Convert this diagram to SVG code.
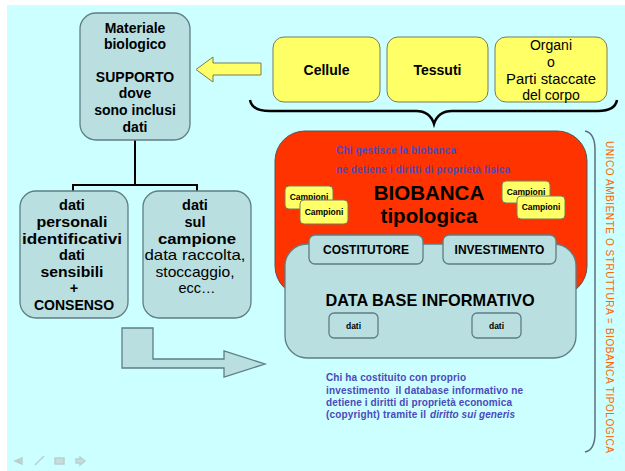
<svg xmlns="http://www.w3.org/2000/svg" width="625" height="471" viewBox="0 0 625 471">
<defs>
<style>
.t{font-family:"Liberation Sans",Arial,sans-serif;fill:#000;text-anchor:middle}
.b{font-weight:bold}
.box{fill:#B9DFE1;stroke:#5E7E84;stroke-width:1.3}
.yel{fill:#FFFF66;stroke:#7A7A5A;stroke-width:1}
.blue{font-family:"Liberation Sans",Arial,sans-serif;font-size:10px;font-weight:bold;fill:#4A4ABB}
.line{fill:none;stroke:#000;stroke-width:2}
</style>
</defs>
<rect x="0" y="0" width="625" height="471" fill="#FFFFFF"/>
<rect x="7" y="5" width="618" height="466" fill="#CCFFFF"/>

<g id="connectors">
<path class="line" d="M135,140 V185 M73,191 V185 H197 V191"/>
<path d="M250,100 Q252,111 270,111 L416,111 Q430,111 434,124 Q438,111 452,111 L598,111 Q615,111 617,100" fill="none" stroke="#000" stroke-width="2.5"/>
<path d="M585,131 Q595,133 595,150 L595,433 Q595,450 585,452" fill="none" stroke="#5E7080" stroke-width="1.5"/>
</g>

<g id="arrow-left">
<path class="yel" d="M261,63 L213,63 L213,57 L196,69.5 L213,82 L213,75 L261,75 Z"/>
</g>

<g id="arrow-bent">
<path class="box" d="M122,328 L153,328 L153,359 L224,359 L224,351 L265,364 L224,377 L224,368 L122,368 Z"/>
</g>

<g id="materiale">
<rect class="box" x="80" y="13" width="110" height="127" rx="16"/>
<text class="t b" font-size="14"><tspan x="135" y="33">Materiale</tspan><tspan x="135" y="49">biologico</tspan><tspan x="135" y="82">SUPPORTO</tspan><tspan x="135" y="98">dove</tspan><tspan x="135" y="115">sono inclusi</tspan><tspan x="135" y="132">dati</tspan></text>
</g>

<g id="dati-personali">
<rect class="box" x="20" y="191" width="108" height="127" rx="16"/>
<text class="t b" font-size="14.5">
<tspan x="74" y="210">dati</tspan>
<tspan x="74" y="227" textLength="71" lengthAdjust="spacingAndGlyphs">personali</tspan>
<tspan x="74" y="244" textLength="100" lengthAdjust="spacingAndGlyphs">identificativi</tspan>
<tspan x="74" y="260">dati</tspan>
<tspan x="74" y="277" textLength="63" lengthAdjust="spacingAndGlyphs">sensibili</tspan>
<tspan x="74" y="293">+</tspan>
</text>
<text class="t b" font-size="14" x="74" y="310">CONSENSO</text>
</g>

<g id="dati-campione">
<rect class="box" x="143" y="191" width="108" height="127" rx="16"/>
<text class="t b" font-size="14.5">
<tspan x="197" y="210">dati</tspan>
<tspan x="197" y="227">sul</tspan>
<tspan x="197" y="244" textLength="78" lengthAdjust="spacingAndGlyphs">campione</tspan>
</text>
<text class="t" font-size="14.5">
<tspan x="197" y="260" textLength="101" lengthAdjust="spacingAndGlyphs">data raccolta,</tspan>
<tspan x="197" y="277" textLength="79" lengthAdjust="spacingAndGlyphs">stoccaggio,</tspan>
<tspan x="197" y="293">ecc…</tspan>
</text>
</g>

<g id="cellule">
<rect class="yel" x="273" y="37" width="107" height="65" rx="11"/>
<text class="t b" font-size="14" x="326.5" y="75">Cellule</text>
</g>
<g id="tessuti">
<rect class="yel" x="387" y="37" width="101" height="65" rx="11"/>
<text class="t b" font-size="14" x="437.5" y="75">Tessuti</text>
</g>
<g id="organi">
<rect class="yel" x="495" y="37" width="112" height="65" rx="11"/>
<text class="t" font-size="14"><tspan x="551" y="50">Organi</tspan><tspan x="551" y="67">o</tspan><tspan x="551" y="84" textLength="90" lengthAdjust="spacingAndGlyphs">Parti staccate</tspan><tspan x="551" y="100">del corpo</tspan></text>
</g>

<g id="biobanca">
<rect x="275" y="131" width="312" height="165" rx="30" fill="#FF3300" stroke="#555" stroke-width="1"/>
<text class="blue" x="336" y="154" textLength="120" lengthAdjust="spacing">Chi gestisce la biobanca</text>
<text class="blue" x="336" y="173" textLength="174" lengthAdjust="spacing">ne detiene i diritti di proprietà fisica</text>
<text class="t b" font-size="20.5"><tspan x="429" y="200">BIOBANCA</tspan><tspan x="429" y="223">tipologica</tspan></text>
</g>

<g id="campioni-left">
<rect class="yel" x="285" y="186" width="48" height="23" rx="4" stroke="#555"/>
<text class="t b" font-size="8.5" x="309" y="200">Campioni</text>
<rect class="yel" x="300" y="200" width="48" height="24" rx="4" stroke="#555"/>
<text class="t b" font-size="8.5" x="324" y="215">Campioni</text>
</g>
<g id="campioni-right">
<rect class="yel" x="502" y="181" width="48" height="22" rx="4" stroke="#555"/>
<text class="t b" font-size="8.5" x="526" y="195">Campioni</text>
<rect class="yel" x="517" y="196" width="48" height="23" rx="4" stroke="#555"/>
<text class="t b" font-size="8.5" x="541" y="210">Campioni</text>
</g>

<g id="database">
<rect class="box" x="285" y="244" width="291" height="114" rx="22"/>
<text class="t b" font-size="16.3" x="430" y="306">DATA BASE INFORMATIVO</text>
</g>
<g id="costitutore">
<rect class="box" x="309" y="235" width="114" height="29" rx="6"/>
<text class="t b" font-size="12" x="366" y="254">COSTITUTORE</text>
</g>
<g id="investimento">
<rect class="box" x="443" y="235" width="113" height="29" rx="6"/>
<text class="t b" font-size="12" x="499.5" y="254">INVESTIMENTO</text>
</g>
<g id="dati-1">
<rect class="box" x="329" y="313" width="49" height="25" rx="5"/>
<text class="t b" font-size="8.5" x="353.5" y="329">dati</text>
</g>
<g id="dati-2">
<rect class="box" x="472" y="313" width="49" height="25" rx="5"/>
<text class="t b" font-size="8.5" x="496.5" y="329">dati</text>
</g>

<g id="nota-economica">
<text class="blue" x="326" y="381" textLength="140" lengthAdjust="spacing">Chi ha costituito con proprio</text>
<text class="blue" x="326" y="394" textLength="197" lengthAdjust="spacing">investimento&#160; il database informativo ne</text>
<text class="blue" x="326" y="406" textLength="186" lengthAdjust="spacing">detiene i diritti di proprietà economica</text>
<text class="blue" x="326" y="418" textLength="100" lengthAdjust="spacing">(copyright) tramite il</text>
<text class="blue" x="430" y="418" font-style="italic" font-weight="normal" textLength="85" lengthAdjust="spacing">diritto sui generis</text>
</g>

<g id="unico-ambiente">
<text transform="translate(605.5,141) rotate(90)" font-family="Liberation Sans,Arial,sans-serif" font-size="10" fill="#FF6600" x="0" y="0" textLength="312" lengthAdjust="spacing">UNICO AMBIENTE O STRUTTURA = BIOBANCA TIPOLOGICA</text>
</g>

<g id="nav" fill="none" stroke="#B8D0D0" stroke-width="1.5">
<path d="M22,461 L17,461 M22,458 L15,461 L22,464 Z" fill="#C8DCDC"/>
<path d="M35,465 L44,456"/>
<rect x="55" y="458" width="9" height="6" fill="#C8DCDC"/>
<path d="M76,459 L80,459 L80,457 L85,461 L80,465 L80,463 L76,463 Z" fill="#C8DCDC"/>
</g>
</svg>
